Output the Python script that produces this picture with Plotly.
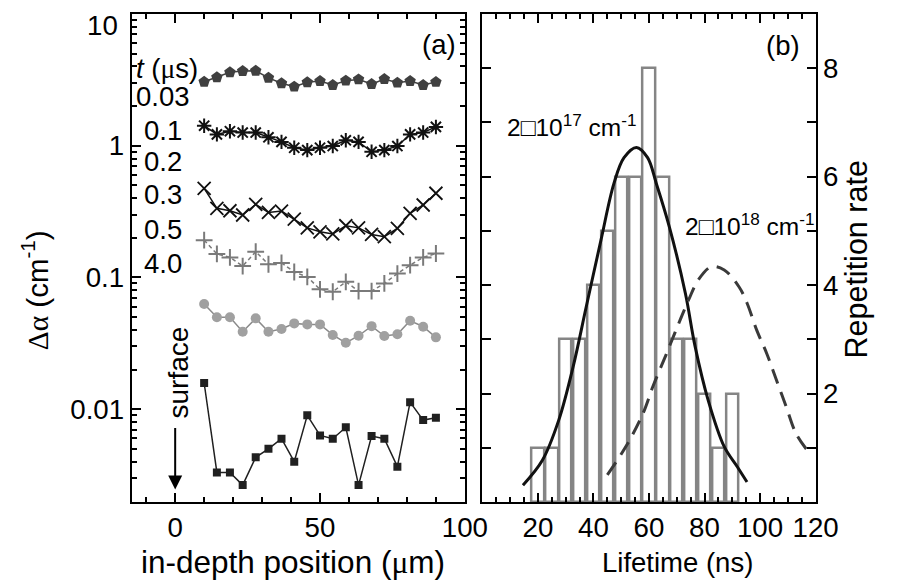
import plotly.graph_objects as go

# ---------------- data: panel (a) ----------------
depth_um = [10.0, 14.4, 18.9, 23.3, 27.8, 32.2, 36.7, 41.1, 45.6, 50.0,
            54.4, 58.9, 63.3, 67.8, 72.2, 76.7, 81.1, 85.6, 90.0]
da_t003 = [3.06, 3.31, 3.61, 3.69, 3.71, 3.28, 2.98, 2.81, 3.03, 3.10,
           2.89, 3.12, 3.19, 2.94, 3.21, 3.01, 3.10, 2.89, 3.05]
da_t01 = [1.42, 1.22, 1.29, 1.26, 1.26, 1.16, 1.07, 0.966, 0.927, 0.966,
          0.995, 1.10, 1.07, 0.90, 0.927, 0.995, 1.22, 1.26, 1.39]
da_t02 = [0.475, 0.335, 0.321, 0.298, 0.359, 0.312, 0.319, 0.277, 0.238, 0.222,
          0.214, 0.247, 0.238, 0.212, 0.204, 0.236, 0.307, 0.355, 0.436]
da_t03 = [0.192, 0.151, 0.142, 0.122, 0.157, 0.126, 0.129, 0.110, 0.101, 0.0812,
          0.0779, 0.0927, 0.0788, 0.0788, 0.0901, 0.107, 0.124, 0.142, 0.152]
da_t05 = [0.0628, 0.0498, 0.0498, 0.0387, 0.0489, 0.0387, 0.0406, 0.0448, 0.0440, 0.0440,
          0.0366, 0.0319, 0.0361, 0.0427, 0.0359, 0.0370, 0.0469, 0.0423, 0.0351]
da_t40 = [0.0158, 0.00331, 0.00331, 0.00265, 0.00431, 0.00500, 0.00596, 0.00399, 0.00897, 0.00632,
          0.00596, 0.00728, 0.00265, 0.00625, 0.00596, 0.00366, 0.0113, 0.00826, 0.00861]
time_labels = ["0.03", "0.1", "0.2", "0.3", "0.5", "4.0"]

# ---------------- data: panel (b) ----------------
lifetime_bins = [20, 25, 30, 35, 40, 45, 50, 55, 60, 65, 70, 75, 80, 85, 90]
counts = [1, 1, 3, 3, 4, 5, 6, 6, 8, 6, 3, 3, 2, 1, 2]
fit17_x = [14.6, 21.6, 27.5, 32.7, 37.4, 42.7, 47.4, 51.0, 55.5, 59.5,
           62.6, 67.3, 73.1, 76.6, 81.3, 87.1, 91.8, 95.3]
fit17_y = [0.31, 0.77, 1.51, 2.50, 3.60, 4.83, 5.88, 6.35, 6.54, 6.35,
           5.88, 5.08, 3.85, 2.87, 1.88, 1.02, 0.65, 0.37]
fit18_x = [45.0, 52.0, 57.9, 61.4, 66.1, 70.2, 74.3, 77.8, 82.5, 87.1,
           92.4, 95.3, 98.8, 102.4, 105.9, 109.4, 112.9, 116.9]
fit18_y = [0.50, 1.05, 1.64, 2.13, 2.71, 3.23, 3.73, 4.10, 4.34, 4.28,
           3.97, 3.67, 3.17, 2.74, 2.25, 1.76, 1.27, 0.96]

FONT = "Arial, Liberation Sans, sans-serif"
# the page body keeps an 8px margin, so page position = figure position + 8
M = 8
W, H = 898 - M, 585 - M


def px(sx):
    return (sx - M) / W


def py(sy):
    return 1 - (sy - M) / H


fig = go.Figure()

series = [
    (da_t003, dict(symbol="pentagon", size=12, color="#404040"), dict(color="#404040", width=1.5)),
    (da_t01, dict(symbol="asterisk-open", size=12, color="#111111", line=dict(width=2, color="#111111")),
     dict(color="#111111", width=1.5)),
    (da_t02, dict(symbol="x-thin-open", size=13, color="#111111", line=dict(width=1.8, color="#111111")),
     dict(color="#111111", width=1.5)),
    (da_t03, dict(symbol="cross-thin-open", size=12, color="#7a7a7a", line=dict(width=2, color="#7a7a7a")),
     dict(color="#7a7a7a", width=1.5, dash="4px,3px")),
    (da_t05, dict(symbol="circle", size=10, color="#a0a0a0"), dict(color="#8a8a8a", width=1.5)),
    (da_t40, dict(symbol="square", size=8, color="#202020"), dict(color="#202020", width=1.5)),
]
for vals, mk, ln in series:
    fig.add_trace(go.Scatter(x=depth_um, y=vals, mode="lines+markers", marker=mk, line=ln,
                             xaxis="x", yaxis="y", showlegend=False))

fig.add_trace(go.Bar(x=lifetime_bins, y=counts, width=4.4, xaxis="x2", yaxis="y2",
                     marker=dict(color="white", line=dict(color="#858585", width=2.5)),
                     showlegend=False))
fig.add_trace(go.Scatter(x=fit17_x, y=fit17_y, mode="lines", line=dict(color="#111111", width=3, shape="spline"),
                         xaxis="x2", yaxis="y2", showlegend=False))
fig.add_trace(go.Scatter(x=fit18_x, y=fit18_y, mode="lines",
                         line=dict(color="#3a3a3a", width=3, shape="spline", dash="15px,9px"),
                         xaxis="x2", yaxis="y2", showlegend=False))

axis_common = dict(showline=True, linewidth=2, linecolor="black", mirror="ticks", ticks="inside",
                   tickwidth=1.5, tickcolor="black", showgrid=False, zeroline=False,
                   tickfont=dict(family=FONT, size=27.7, color="black"))
minor_common = dict(ticks="inside", ticklen=5, tickwidth=1.5, tickcolor="black")

TOP, BOT = 14, 502
fig.update_layout(
    width=W, height=H, margin=dict(l=0, r=0, t=0, b=0),
    paper_bgcolor="white", plot_bgcolor="white", bargap=0,
    xaxis=dict(domain=[px(135), px(477)], range=[-15, 100.001], tickvals=[0, 50, 100], ticklen=9,
               minor=dict(dtick=10, tick0=0, **minor_common), anchor="y", **axis_common),
    yaxis=dict(domain=[py(BOT), py(TOP)], type="log", range=[-2.705, 1.0005],
               tickvals=[0.01, 0.1, 1, 10], ticktext=["0.01", "0.1", "1", ""], ticklen=9,
               minor=dict(dtick="D1", **minor_common), anchor="x", **axis_common),
    xaxis2=dict(domain=[px(495), px(837)], range=[0, 120.001], tickvals=[20, 40, 60, 80, 100, 120], ticklen=9,
                minor=dict(dtick=5, tick0=0, **minor_common), anchor="y2", **axis_common),
    yaxis2=dict(domain=[py(BOT), py(TOP)], range=[0, 9], side="right",
                tickvals=[1, 2, 3, 4, 5, 6, 7, 8], ticktext=["", "2", "", "4", "", "6", "", "8"], ticklen=9,
                anchor="x2", **axis_common),
)

ann = []


def txt(x, y, text, size=26, xanchor="center", yanchor="middle", angle=0):
    ann.append(dict(x=px(x), y=py(y), xref="paper", yref="paper", text=text, showarrow=False,
                    xanchor=xanchor, yanchor=yanchor, textangle=angle,
                    font=dict(family=FONT, size=size, color="black")))


# "10" label of the log axis, kept inside the figure area
txt(123, 8.5, "10", size=27.7, xanchor="right", yanchor="top")

txt(301, 562, "in-depth position (<span style='font-family:Liberation Serif'>μ</span>m)", size=31.5)
txt(695, 562, "Lifetime (ns)", size=27.5)
txt(35, 290, "<span style='font-family:Liberation Serif'>Δα</span> (cm<sup>-1</sup>)", size=29.5, angle=-90)
txt(878, 260, "Repetition rate", size=30.5, angle=-90)
txt(450, 44, "(a)", size=27.5)
txt(804, 45, "(b)", size=27.5)
txt(137, 68, "<i>t</i> (<span style='font-family:Liberation Serif'>μ</span>s)", size=27.5, xanchor="left")
label_y = [96, 130, 162, 195, 230, 263]
label_x = [137, 146, 146, 146, 146, 146]
for lab, ly, lx in zip(time_labels, label_y, label_x):
    txt(lx, ly, lab, size=27.5, xanchor="left")
txt(586, 125, "2□10<sup>17</sup> cm<sup>-1</sup>", size=24.5)
txt(769, 225, "2□10<sup>18</sup> cm<sup>-1</sup>", size=24.5)
txt(182, 373, "surface", size=28, angle=-90)

# arrow pointing to the surface (x = 0)
ann.append(dict(x=0, y=-2.61, xref="x", yref="y", ax=0, ay=-63, axref="pixel", ayref="pixel",
                text="", showarrow=True, arrowhead=2, arrowsize=1.4, arrowwidth=2, arrowcolor="black"))

fig.update_layout(annotations=ann)
fig.write_html("out.html")
